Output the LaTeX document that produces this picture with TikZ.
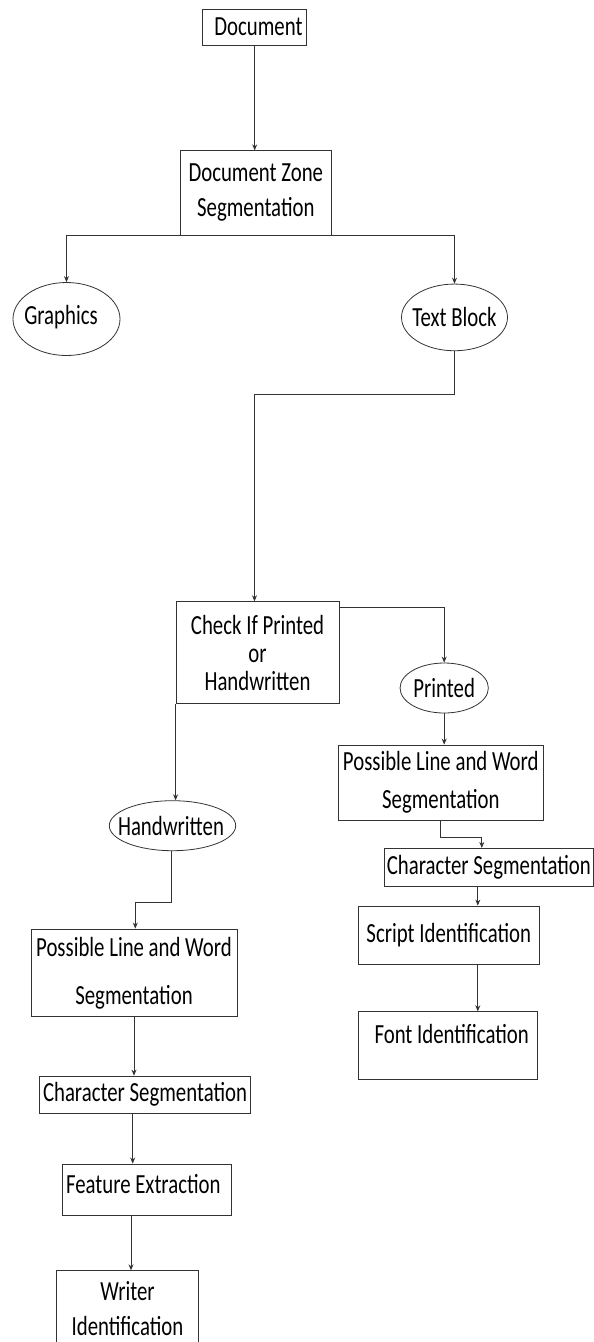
\documentclass[tikz,border=0pt]{standalone}
\usepackage{fontspec}
\usepackage{graphicx}
\setmainfont{Carlito}
\usetikzlibrary{shapes.geometric,arrows.meta,calc}
\definecolor{linec}{HTML}{333333}
\newcommand\fs{\fontsize{20.8}{28}\selectfont\lineskiplimit=-100pt\relax}
\newcommand\vs[1]{\scalebox{1}[1.33]{#1}}
\newcommand\tx[3]{\raisebox{#2}[\height][\depth]{\makebox[0pt]{\hspace*{#1}\vs{#3}}}}
\begin{document}
\begin{tikzpicture}[x=1pt,y=-1pt,
  box/.style={draw=linec,line width=0.8pt,inner sep=0pt,align=center,font=\fs},
  oval/.style={ellipse,draw=linec,line width=0.8pt,inner sep=0pt,font=\fs},
  arr/.style={draw=linec,line width=0.8pt,-{Stealth[length=6pt,width=5pt]}},
  ln/.style={draw=linec,line width=0.8pt}]
\useasboundingbox (0,0) rectangle (594,1342);

% nodes
\node[box,minimum width=104pt,minimum height=35.7pt] (doc) at (254.7,27.2) {\tx{7.4pt}{0pt}{Document}};
\node[box,minimum width=151.7pt,minimum height=84.3pt] (dzs) at (255.8,192.9) {\vs{Document Zone}\\[7pt]\vs{Segmentation}};
\node[oval,minimum width=107pt,minimum height=73pt] (gr) at (66.5,319) {\tx{-11pt}{2.3pt}{Graphics}};
\node[oval,minimum width=106pt,minimum height=66.7pt] (tb) at (454.5,317.4) {\tx{0pt}{0pt}{Text Block}};
\node[box,minimum width=163pt,minimum height=101.6pt] (chk) at (257.5,652.5) {\vs{Check If Printed}\\\vs{or}\\\vs{Handwritten}};
\node[oval,minimum width=88.3pt,minimum height=50pt] (pr) at (444.2,688) {\tx{0pt}{0pt}{Printed}};
\node[box,minimum width=205pt,minimum height=75pt] (plwR) at (440.8,782.5) {\vs{Possible Line and Word}\\[10pt]\vs{Segmentation}};
\node[box,minimum width=209pt,minimum height=38.4pt] (csR) at (488.8,867.5) {\vs{Character Segmentation}};
\node[box,minimum width=181pt,minimum height=58pt] (scr) at (448.8,935) {\vs{Script Identification}};
\node[box,minimum width=179.4pt,minimum height=67.6pt] (fnt) at (448,1045.5) {\tx{7.4pt}{11.3pt}{Font Identification}};
\node[oval,minimum width=126.4pt,minimum height=50pt] (hw) at (172.5,825.7) {\tx{-3pt}{0pt}{Handwritten}};
\node[box,minimum width=206pt,minimum height=87.7pt] (plwL) at (134,972.8) {\vs{Possible Line and Word}\\[20pt]\vs{Segmentation}};
\node[box,minimum width=211.4pt,minimum height=37.3pt] (csL) at (145,1094.7) {\vs{Character Segmentation}};
\node[box,minimum width=168.7pt,minimum height=51.7pt] (fe) at (146.7,1189.8) {\tx{-6.8pt}{5.8pt}{Feature Extraction}};
\node[box,minimum width=141.4pt,minimum height=75.6pt] (wr) at (127.5,1308.5) {\vs{Writer}\\[7pt]\vs{Identification}};

% connectors
\draw[arr] (doc.south) -- (doc.south |- dzs.north);
\draw[arr] (dzs.south) -| (gr.north);
\draw[arr] (dzs.south) -| (tb.north);
\coordinate (tbk) at ($(tb.south)+(0,43)$);
\draw[arr] (tb.south) -- (tbk) -| ($(chk.north)+(-3,0)$);
\draw[arr] ($(chk.north east)+(0,5.6)$) -| (pr.north);
\draw[arr] (chk.south west) -- (chk.south west |- hw.north);
\draw[arr] (pr.south) -- (pr.south |- plwR.north);
\draw[arr] ($(plwR.south)+(-0.8,0)$) -- ++(0,16.7) -| ($(csR.north)+(-7,0)$);
\coordinate (csRo) at ($(csR.south)+(-11,0)$);
\draw[arr] (csRo) -- (csRo |- scr.north);
\coordinate (scro) at ($(scr.south)+(29,0)$);
\draw[arr] (scro) -- (scro |- fnt.north);
\draw[arr] ($(hw.south)+(-1.5,0)$) -- ++(0,51) -| ($(plwL.north)+(1.3,0)$);
\draw[arr] (plwL.south) -- (plwL.south |- csL.north);
\coordinate (csLo) at ($(csL.south)+(-12.3,0)$);
\draw[arr] (csLo) -- (csLo |- fe.north);
\coordinate (feo) at ($(fe.south)+(-15.7,0)$);
\draw[arr] (feo) -- (feo |- wr.north);
\end{tikzpicture}
\end{document}
